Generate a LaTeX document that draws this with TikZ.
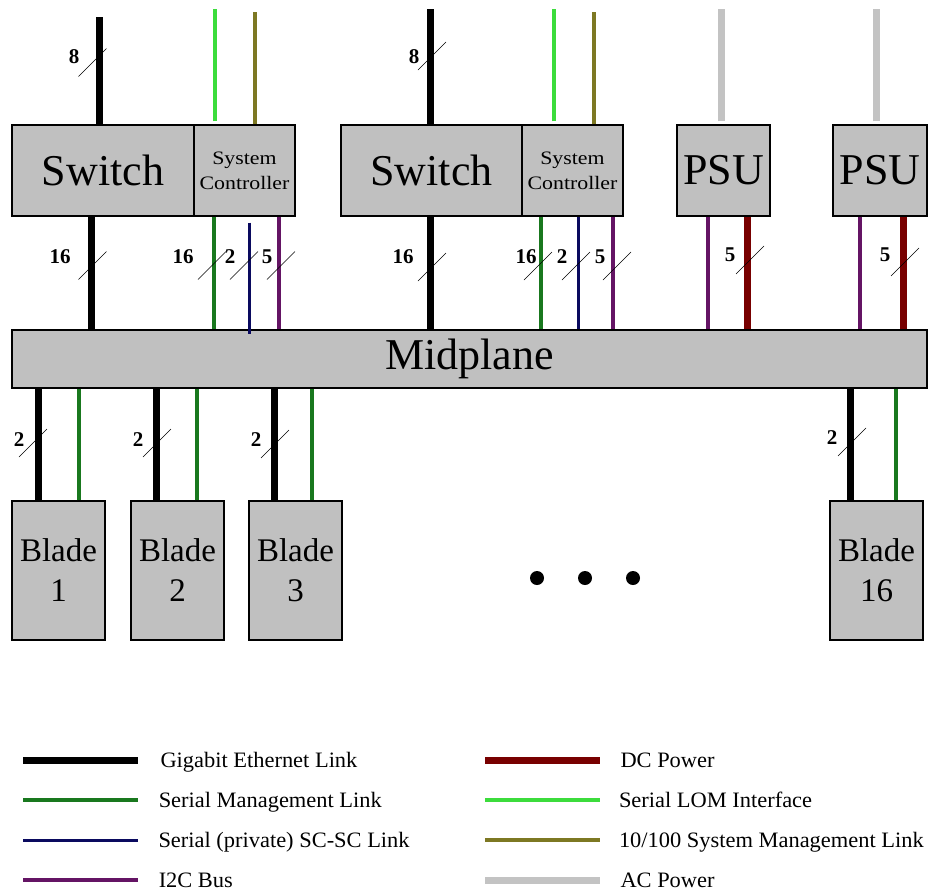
\documentclass[tikz,border=0pt]{standalone}
\usepackage{fontspec}
\setmainfont{Liberation Serif}
\newfontfamily\ctlfont[FakeStretch=1.15]{Liberation Serif}
\newfontfamily\keyfont[FakeStretch=1.02]{Liberation Serif}
\definecolor{boxgray}{RGB}{192,192,192}
\definecolor{smlgreen}{RGB}{25,120,30}
\definecolor{scnavy}{RGB}{10,10,95}
\definecolor{i2cpurple}{RGB}{100,20,100}
\definecolor{dcred}{RGB}{120,0,0}
\definecolor{lomgreen}{RGB}{60,220,60}
\definecolor{mgmtolive}{RGB}{125,120,35}
\definecolor{acgray}{RGB}{195,195,195}
\begin{document}
\begin{tikzpicture}[x=1pt,y=-1pt,line cap=butt,
 box/.style={draw,line width=1.2pt,fill=boxgray,inner sep=0pt,minimum height=91pt},
 bigtext/.style={font=\fontsize{44}{44}\selectfont},
 ctltext/.style={font=\ctlfont\fontsize{19}{25}\selectfont,align=center},
 bladebox/.style={box,minimum width=93pt,minimum height=139pt,align=center,font=\fontsize{33}{40}\selectfont},
 num/.style={font=\fontsize{21}{21}\selectfont\bfseries,inner sep=0pt},
 busmark/.style={line width=.6pt,black},
 gbe/.style={line width=7pt,black},
 sml/.style={line width=3.5pt,smlgreen},
 scsc/.style={line width=3pt,scnavy},
 itc/.style={line width=3.5pt,i2cpurple},
 dcp/.style={line width=7pt,dcred},
 lom/.style={line width=4pt,lomgreen},
 mgmt/.style={line width=4pt,mgmtolive},
 acp/.style={line width=7pt,acgray},
 key/.style={font=\keyfont\fontsize{22}{22}\selectfont,text=black,inner sep=0pt,anchor=base west,yshift=-7pt}]
\useasboundingbox (0,0) rectangle (930,892);

% boxes
\node[box,bigtext,minimum width=182pt] (sw1) at (103,170.5) {Switch};
\node[box,ctltext,minimum width=101pt] (sc1) at (244.5,170.5) {System\\Controller};
\node[box,bigtext,minimum width=181pt] (sw2) at (431.5,170.5) {Switch};
\node[box,ctltext,minimum width=101pt] (sc2) at (572.5,170.5) {System\\Controller};
\node[box,bigtext,minimum width=93pt] (psu1) at (723.5,170.5) {PSU};
\node[box,bigtext,minimum width=94pt] (psu2) at (880,170.5) {PSU};
\node[box,bigtext,minimum width=915pt,minimum height=58pt] (mid) at (469.5,359) {Midplane};
\node[bladebox] (b1) at (58.5,570.5) {Blade\\1};
\node[bladebox] (b2) at (177.5,570.5) {Blade\\2};
\node[bladebox] (b3) at (295.5,570.5) {Blade\\3};
\node[bladebox] (b16) at (876.5,570.5) {Blade\\16};

% uplinks
\draw[gbe] ([xshift=-4]sw1.north) -- ++(0,-107);
\draw[lom] ([xshift=-29.5]sc1.north) ++(0,-3) -- ++(0,-112);
\draw[mgmt] ([xshift=10.5]sc1.north) -- ++(0,-112);
\draw[gbe] ([xshift=-1.5]sw2.north) -- ++(0,-115);
\draw[lom] ([xshift=-18.5]sc2.north) ++(0,-3) -- ++(0,-112);
\draw[mgmt] ([xshift=21.5]sc2.north) -- ++(0,-112);
\draw[acp] ([xshift=-2.5]psu1.north) ++(0,-3) -- ++(0,-112);
\draw[acp] ([xshift=-4]psu2.north) ++(0,-3) -- ++(0,-112);

% to the midplane
\draw[gbe] ([xshift=-12]sw1.south) -- ([xshift=-12]sw1.south |- mid.north);
\draw[sml] ([xshift=-30.5]sc1.south) -- ([xshift=-30.5]sc1.south |- mid.north);
\draw[scsc,shorten <=6pt,shorten >=-5pt] ([xshift=4.5]sc1.south) -- ([xshift=4.5]sc1.south |- mid.north);
\draw[itc] ([xshift=34.5]sc1.south) -- ([xshift=34.5]sc1.south |- mid.north);
\draw[gbe] ([xshift=-1.5]sw2.south) -- ([xshift=-1.5]sw2.south |- mid.north);
\draw[sml] ([xshift=-31.5]sc2.south) -- ([xshift=-31.5]sc2.south |- mid.north);
\draw[scsc] ([xshift=5.5]sc2.south) -- ([xshift=5.5]sc2.south |- mid.north);
\draw[itc] ([xshift=40.5]sc2.south) -- ([xshift=40.5]sc2.south |- mid.north);
\draw[itc] ([xshift=-15.5]psu1.south) -- ([xshift=-15.5]psu1.south |- mid.north);
\draw[dcp] ([xshift=23.5]psu1.south) -- ([xshift=23.5]psu1.south |- mid.north);
\draw[itc] ([xshift=-20]psu2.south) -- ([xshift=-20]psu2.south |- mid.north);
\draw[dcp] ([xshift=23]psu2.south) -- ([xshift=23]psu2.south |- mid.north);

% blades
\draw[gbe] ([xshift=-20.5]b1.north) -- ([xshift=-20.5]b1.north |- mid.south);
\draw[sml] ([xshift=20.5]b1.north) -- ([xshift=20.5]b1.north |- mid.south);
\draw[gbe] ([xshift=-21.5]b2.north) -- ([xshift=-21.5]b2.north |- mid.south);
\draw[sml] ([xshift=19.5]b2.north) -- ([xshift=19.5]b2.north |- mid.south);
\draw[gbe] ([xshift=-21.5]b3.north) -- ([xshift=-21.5]b3.north |- mid.south);
\draw[sml] ([xshift=16.5]b3.north) -- ([xshift=16.5]b3.north |- mid.south);
\draw[gbe] ([xshift=-26.5]b16.north) -- ([xshift=-26.5]b16.north |- mid.south);
\draw[sml] ([xshift=19.5]b16.north) -- ([xshift=19.5]b16.north |- mid.south);

% bus widths
\foreach \x/\y in {92.5/62.5,432/56,92.5/265.5,212/265.5,244/265.5,281/265.5,
 432/267,538/266,576/266,617/266,750/260,905/262,33/443,157/443,275/444,852/442}
 \draw[busmark] (\x,\y) ++(-14,14) -- ++(28,-28);
\node[num] (n1) at (74,57) {8};
\node[num] (n2) at (414,57) {8};
\node[num] (n3) at (60,257) {16};
\node[num] (n4) at (183,257) {16};
\node[num] (n5) at (230,257) {2};
\node[num] (n6) at (267,257) {5};
\node[num] (n7) at (403,257) {16};
\node[num] (n8) at (526,257) {16};
\node[num] (n9) at (562,257) {2};
\node[num] (n10) at (600,257) {5};
\node[num] (n11) at (730,255) {5};
\node[num] (n12) at (885,255) {5};
\node[num] (n13) at (19,440) {2};
\node[num] (n14) at (138,440) {2};
\node[num] (n15) at (256,440) {2};
\node[num] (n16) at (832,438) {2};

% more blades
\foreach \x in {537,585,633} \fill (\x,578) circle (7);

% legend
\foreach \y/\s/\t [count=\i] in {760/gbe/Gigabit Ethernet Link,800/sml/Serial Management Link,
 840/scsc/Serial (private) SC-SC Link,880/itc/I2C Bus}
 \draw[\s] (23,\y) -- (138,\y) node[key,xshift=19pt] (k\i) {\t};
\foreach \y/\s/\t [count=\i from 5] in {760/dcp/DC Power,800/lom/Serial LOM Interface,
 840/mgmt/{10/100 System Management Link},880/acp/AC Power}
 \draw[\s] (485,\y) -- (600,\y) node[key,xshift=17pt] (k\i) {\t};
\end{tikzpicture}
\end{document}
